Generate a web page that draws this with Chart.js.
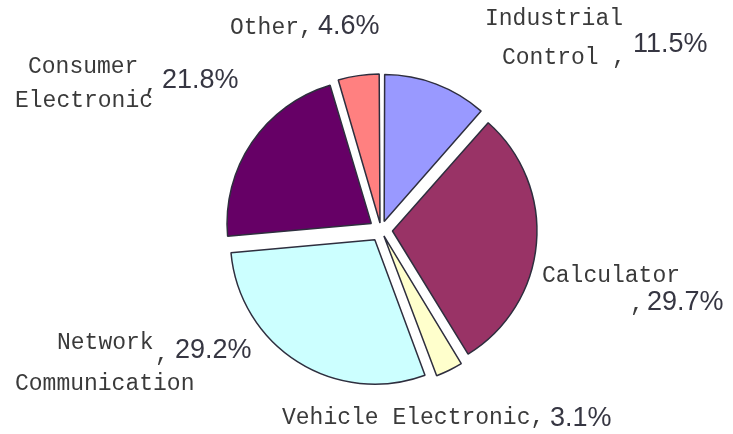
<!DOCTYPE html>
<html>
<head>
<meta charset="utf-8">
<script src="https://cdn.jsdelivr.net/npm/chart.js@4.4.1/dist/chart.umd.min.js"></script>
<style>
  html, body { margin: 0; padding: 0; background: #fff; }
  #wrap { width: 733px; height: 434px; position: relative; }
</style>
</head>
<body>
<div id="wrap"><canvas id="pieChart" width="733" height="434"></canvas></div>
<script>
// Application market share (clockwise from 12 o'clock)
const categories = ['Industrial Control', 'Calculator', 'Vehicle Electronic', 'Network Communication', 'Consumer Electronic', 'Other'];
const shares = [11.5, 29.7, 3.1, 29.2, 21.8, 4.6];
const sliceColors = ['#9999FF', '#993366', '#FFFFCC', '#CCFFFF', '#660066', '#FF8080'];

// Where each label's text goes: name lines (monospace), separator comma, percentage
const labelLayout = [
    { lines: [['Industrial', 485, 19], ['Control', 502, 58]], comma: [612, 58], pct: [633, 45] },
    { lines: [['Calculator', 542, 276]], comma: [630, 305], pct: [647, 303] },
    { lines: [['Vehicle Electronic,', 282, 418]], comma: null, pct: [550, 419] },
    { lines: [['Network', 57, 343], ['Communication', 15, 384]], comma: [155, 355], pct: [175, 351] },
    { lines: [['Consumer', 28, 67], ['Electronic', 15, 101]], comma: [144, 86], pct: [162, 81] },
    { lines: [['Other,', 230, 28]], comma: null, pct: [318, 27] }
];

const MONO_FONT = "23px 'Liberation Mono', 'DejaVu Sans Mono', monospace";
const PCT_FONT = "27px 'Liberation Sans', Arial, sans-serif";
const EXPLODE_PX = 12;

// Chart.js desplaza cada porción offset/4 * (1 + fix), con fix = 1 - sin(ángulo);
// se invierte para que todas las porciones se separen lo mismo
function explodeOffset(context) {
    const total = shares.reduce((a, b) => a + b, 0);
    const circ = shares[context.dataIndex] / total * Math.PI * 2;
    const fix = 1 - Math.sin(Math.min(Math.PI, circ));
    return EXPLODE_PX * 4 / (1 + fix);
}

// Plugin que dibuja las etiquetas de cada porción
const sliceLabels = {
    id: 'sliceLabels',
    afterDraw(chart) {
        const ctx = chart.ctx;
        ctx.save();
        ctx.textAlign = 'left';
        ctx.textBaseline = 'middle';
        labelLayout.forEach((lbl, i) => {
            ctx.font = MONO_FONT;
            ctx.fillStyle = '#3a3a3a';
            lbl.lines.forEach(([txt, x, y]) => ctx.fillText(txt, x, y));
            if (lbl.comma) {
                ctx.fillText(',', lbl.comma[0], lbl.comma[1]);
            }
            ctx.font = PCT_FONT;
            ctx.fillStyle = '#363642';
            ctx.fillText(shares[i].toFixed(1) + '%', lbl.pct[0], lbl.pct[1]);
        });
        ctx.restore();
    }
};

const ctx = document.getElementById('pieChart').getContext('2d');
new Chart(ctx, {
    type: 'pie',
    data: {
        labels: categories,
        datasets: [{
            data: shares,
            backgroundColor: sliceColors,
            borderColor: '#2e2e3e',
            borderWidth: 1.5,
            offset: explodeOffset,
            radius: 144
        }]
    },
    options: {
        responsive: false,
        animation: false,
        layout: {
            padding: { left: 29, right: 0, top: 26, bottom: 0 }
        },
        plugins: {
            legend: { display: false },
            tooltip: { enabled: false }
        }
    },
    plugins: [sliceLabels]
});
</script>
</body>
</html>
